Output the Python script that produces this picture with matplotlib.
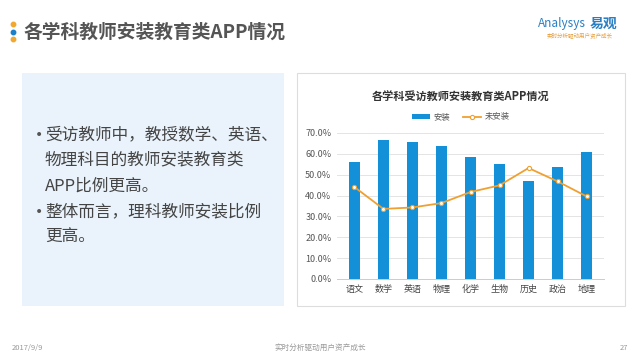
import numpy as np
import matplotlib.pyplot as plt
from matplotlib.patches import Rectangle

plt.rcParams['font.family'] = ['Noto Sans CJK SC', 'DejaVu Sans']

# data
subjects = ["语文", "数学", "英语", "物理", "化学", "生物", "历史", "政治", "地理"]
installed = [56.1, 66.8, 65.8, 63.6, 58.5, 55.3, 47.1, 53.5, 60.7]
not_installed = [44.1, 33.6, 34.3, 36.4, 41.7, 44.9, 53.2, 46.8, 39.6]
yticks = [0, 10, 20, 30, 40, 50, 60, 70]

W, H = 640, 360
fig = plt.figure(figsize=(6.4, 3.6), dpi=100)
fig.patch.set_facecolor('white')

def px(x, y, w, h):
    # pixel box (top-left origin) -> figure fraction
    return [x / W, 1 - (y + h) / H, w / W, h / H]

# background layer for shapes and slide text
bg = fig.add_axes([0, 0, 1, 1])
bg.set_xlim(0, W)
bg.set_ylim(H, 0)
bg.axis('off')

# title with dots
for yy, c in zip([24, 31.5, 39], ['#F0A830', '#1C7FC8', '#F0A830']):
    bg.plot(13, yy, 'o', ms=3.2, color=c)
bg.text(24, 32, "各学科教师安装教育类APP情况", fontsize=13.5, fontweight='bold',
        color='#555555', va='center', ha='left')

# logo
bg.text(562, 24, "Analysys", fontsize=8.5, style='italic', color='#2a7fc4',
        va='center', ha='center')
bg.text(604, 24, "易观", fontsize=10, fontweight='bold', color='#2a7fc4',
        va='center', ha='center')
bg.text(580, 36, "实时分析驱动用户资产成长", fontsize=4, color='#E8A040',
        va='center', ha='center')

# left panel
bg.add_patch(Rectangle((22, 73), 262, 233, facecolor='#EAF3FB', edgecolor='none'))
lines = [(135, True, "受访教师中，教授数学、英语、"),
         (160, False, "物理科目的教师安装教育类"),
         (186, False, "APP比例更高。"),
         (212, True, "整体而言，理科教师安装比例"),
         (237, False, "更高。")]
for yy, b, t in lines:
    if b:
        bg.text(35, yy, "•", fontsize=10, color='#555555', va='center', ha='left',
                family='DejaVu Sans')
    bg.text(45, yy, t, fontsize=12, color='#444444', va='center', ha='left')

# right panel border
bg.add_patch(Rectangle((297, 73), 328, 233, facecolor='white', edgecolor='#dddddd', lw=0.8))

# footer
bg.text(12, 348, "2017/9/9", fontsize=5.5, color='#999999', va='center', ha='left')
bg.text(320, 348, "实时分析驱动用户资产成长", fontsize=5.5, color='#999999', va='center', ha='center')
bg.text(628, 348, "27", fontsize=5.5, color='#999999', va='center', ha='right')

# chart
ax = fig.add_axes(px(337, 133, 267, 146))
x = np.arange(len(subjects))
bars = ax.bar(x, installed, width=0.4, color='#1490D8', label='安装', zorder=2)
line, = ax.plot(x, not_installed, color='#F0A030', lw=1.3, marker='o', ms=3,
                mfc='white', mec='#F0A030', mew=0.8, label='未安装', zorder=3)
ax.set_xlim(-0.6, len(subjects) - 0.4)
ax.set_ylim(0, 70)
ax.set_yticks(yticks)
ax.set_yticklabels([f"{v:.1f}%" for v in yticks], fontsize=6.5, color='#555555')
ax.set_xticks(x)
ax.set_xticklabels(subjects, fontsize=6.5, color='#444444')
ax.tick_params(length=0, pad=4)
ax.grid(axis='y', color='#e4e4e4', lw=0.7, zorder=0)
for s in ['top', 'right', 'left']:
    ax.spines[s].set_visible(False)
ax.spines['bottom'].set_color('#cccccc')
ax.spines['bottom'].set_linewidth(0.7)

fig.text(461 / W, 1 - 97 / H, "各学科受访教师安装教育类APP情况", fontsize=8,
         fontweight='bold', color='#333333', ha='center', va='center')
fig.legend([bars, line], ['安装', '未安装'], loc='center',
           bbox_to_anchor=(461 / W, 1 - 117 / H), ncol=2, frameon=False,
           fontsize=6, handlelength=2.2, columnspacing=1.5, handletextpad=0.4,
           labelcolor='#555555')

fig.savefig('out.png', dpi=100, facecolor=fig.get_facecolor())
